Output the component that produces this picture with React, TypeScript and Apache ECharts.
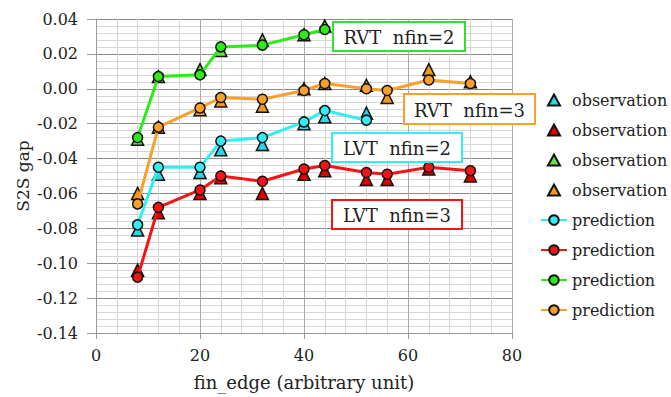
import React, { useEffect, useRef } from "react";
import * as echarts from "echarts";

// x positions (fin_edge)
const xRVT2 = [8, 12, 20, 24, 32, 40, 44];
const xRVT3 = [8, 12, 20, 24, 32, 40, 44, 52, 56, 64, 72];
const xLVT2 = [8, 12, 20, 24, 32, 40, 44, 52];
const xLVT3 = [8, 12, 20, 24, 32, 40, 44, 52, 56, 64, 72];

// observations
const obsLVT2 = [-0.081, -0.049, -0.048, -0.035, -0.032, -0.020, -0.016, -0.014];
const obsLVT3 = [-0.104, -0.071, -0.060, -0.051, -0.060, -0.049, -0.047, -0.052, -0.052, -0.046, -0.050];
const obsRVT2 = [-0.029, 0.007, 0.011, 0.022, 0.028, 0.031, 0.036];
const obsRVT3 = [-0.060, -0.022, -0.012, -0.007, -0.010, 0.000, 0.003, 0.002, -0.005, 0.011, 0.004];

// predictions
const predLVT2 = [-0.078, -0.045, -0.045, -0.030, -0.028, -0.019, -0.0125, -0.018];
const predLVT3 = [-0.108, -0.068, -0.058, -0.050, -0.053, -0.046, -0.044, -0.048, -0.049, -0.045, -0.047];
const predRVT2 = [-0.028, 0.007, 0.008, 0.024, 0.025, 0.031, 0.034];
const predRVT3 = [-0.066, -0.022, -0.011, -0.005, -0.006, -0.001, 0.003, 0.000, -0.001, 0.005, 0.003];

const annotations = ["RVT\u00a0 nfin=2", "RVT\u00a0 nfin=3", "LVT\u00a0 nfin=2", "LVT\u00a0 nfin=3"];

const FONT = "DejaVu Serif";

// legend triangle icon, padded so that it is not stretched in the 26x12 legend box
const TRI_ICON = "path://M0,0 M26,12 M7,11.5 L13,0.5 L19,11.5 Z";

const zip = (xs: number[], ys: number[]) => xs.map((x, i) => [x, ys[i]]);

export default function App() {
  const ref = useRef<HTMLDivElement>(null);
  useEffect(() => {
    if (!ref.current) return;
    const chart = echarts.init(ref.current, null, { renderer: "svg" });

    const obsSeries = (name: string, xs: number[], ys: number[], fill: string) => ({
      type: "scatter",
      name,
      data: zip(xs, ys),
      symbol: "triangle",
      symbolSize: [12, 12],
      itemStyle: { color: fill, borderColor: "#111", borderWidth: 1.5, opacity: 1 },
      z: 2,
    });
    const predSeries = (name: string, xs: number[], ys: number[], color: string) => ({
      type: "line",
      name,
      data: zip(xs, ys),
      symbol: "circle",
      symbolSize: 10,
      showAllSymbol: true,
      lineStyle: { color, width: 3 },
      itemStyle: { color, borderColor: "#111", borderWidth: 1.5 },
      z: 3,
    });

    const box = (x: number, y: number, w: number, h: number, stroke: string, text: string) => ({
      type: "group",
      z: 100,
      children: [
        {
          type: "rect",
          z: 100,
          shape: { x, y, width: w, height: h },
          style: { fill: "#fff", stroke, lineWidth: 2 },
        },
        {
          type: "text",
          z: 101,
          x: x + w / 2,
          y: y + h / 2 + 1,
          style: {
            text,
            fontFamily: FONT,
            fontSize: 18,
            fill: "#222",
            align: "center",
            verticalAlign: "middle",
            textAlign: "center",
            textVerticalAlign: "middle",
          },
        },
      ],
    });

    const obsLegendItem = (name: string) => ({ name, icon: TRI_ICON });

    const option: any = {
      animation: false,
      backgroundColor: "#fff",
      textStyle: { fontFamily: FONT },
      grid: { left: 96, top: 19, width: 416, height: 314, containLabel: false },
      xAxis: {
        type: "value",
        min: 0,
        max: 80,
        interval: 20,
        name: "fin_edge (arbitrary unit)",
        nameLocation: "middle",
        nameGap: 40,
        nameMoveOverlap: false,
        nameTextStyle: { fontFamily: FONT, fontSize: 18, color: "#222" },
        axisLine: { show: true, onZero: false, lineStyle: { color: "#999", width: 1 } },
        axisTick: { show: true, inside: false, length: 6, lineStyle: { color: "#999" } },
        axisLabel: { fontFamily: FONT, fontSize: 16, color: "#222", margin: 14 },
        splitLine: { show: true, lineStyle: { color: "#aaa", width: 1 } },
        minorTick: { show: false, splitNumber: 5 },
        minorSplitLine: { show: true, lineStyle: { color: "#d6d6d6", width: 1 } },
      },
      yAxis: {
        type: "value",
        min: -0.14,
        max: 0.04,
        interval: 0.02,
        name: "S2S gap",
        nameLocation: "middle",
        nameGap: 65,
        nameMoveOverlap: false,
        nameRotate: 90,
        nameTextStyle: { fontFamily: FONT, fontSize: 17, color: "#222" },
        axisLine: { show: true, onZero: false, lineStyle: { color: "#999", width: 1 } },
        axisTick: { show: true, inside: false, length: 9, lineStyle: { color: "#999" } },
        axisLabel: {
          fontFamily: FONT,
          fontSize: 16,
          color: "#222",
          margin: 18,
          formatter: (v: number) => (Math.abs(v) < 1e-9 ? 0 : v).toFixed(2),
        },
        splitLine: { show: true, lineStyle: { color: "#888", width: 1.2 } },
        minorTick: { show: false, splitNumber: 5 },
        minorSplitLine: { show: true, lineStyle: { color: "#d6d6d6", width: 1 } },
      },
      legend: {
        orient: "vertical",
        left: 540,
        top: 92,
        padding: 0,
        itemWidth: 26,
        itemHeight: 12,
        itemGap: 14,
        textStyle: { fontFamily: FONT, fontSize: 16, color: "#222" },
        formatter: (name: string) => name.split("#")[0],
        data: [
          obsLegendItem("observation#1"),
          obsLegendItem("observation#2"),
          obsLegendItem("observation#3"),
          obsLegendItem("observation#4"),
          "prediction#1",
          "prediction#2",
          "prediction#3",
          "prediction#4",
        ],
      },
      series: [
        obsSeries("observation#1", xLVT2, obsLVT2, "#2AD7E6"),
        obsSeries("observation#2", xLVT3, obsLVT3, "#E00000"),
        obsSeries("observation#3", xRVT2, obsRVT2, "#6EDC48"),
        obsSeries("observation#4", xRVT3, obsRVT3, "#EE9A1A"),
        predSeries("prediction#1", xLVT2, predLVT2, "#30EEF4"),
        predSeries("prediction#2", xLVT3, predLVT3, "#F51414"),
        predSeries("prediction#3", xRVT2, predRVT2, "#2EEA1A"),
        predSeries("prediction#4", xRVT3, predRVT3, "#F7A02C"),
      ],
      graphic: {
        elements: [
          box(333, 22, 132, 29, "#33E033", annotations[0]),
          box(404, 94, 131, 30, "#F7A02C", annotations[1]),
          box(332, 133, 130, 29, "#30EEF4", annotations[2]),
          box(332, 200, 130, 29, "#F51414", annotations[3]),
        ],
      },
    };
    chart.setOption(option);
    return () => chart.dispose();
  }, []);
  return (
    <div
      ref={ref}
      style={{ position: "fixed", left: 0, top: 0, width: 671, height: 397, background: "#fff" }}
    />
  );
}
